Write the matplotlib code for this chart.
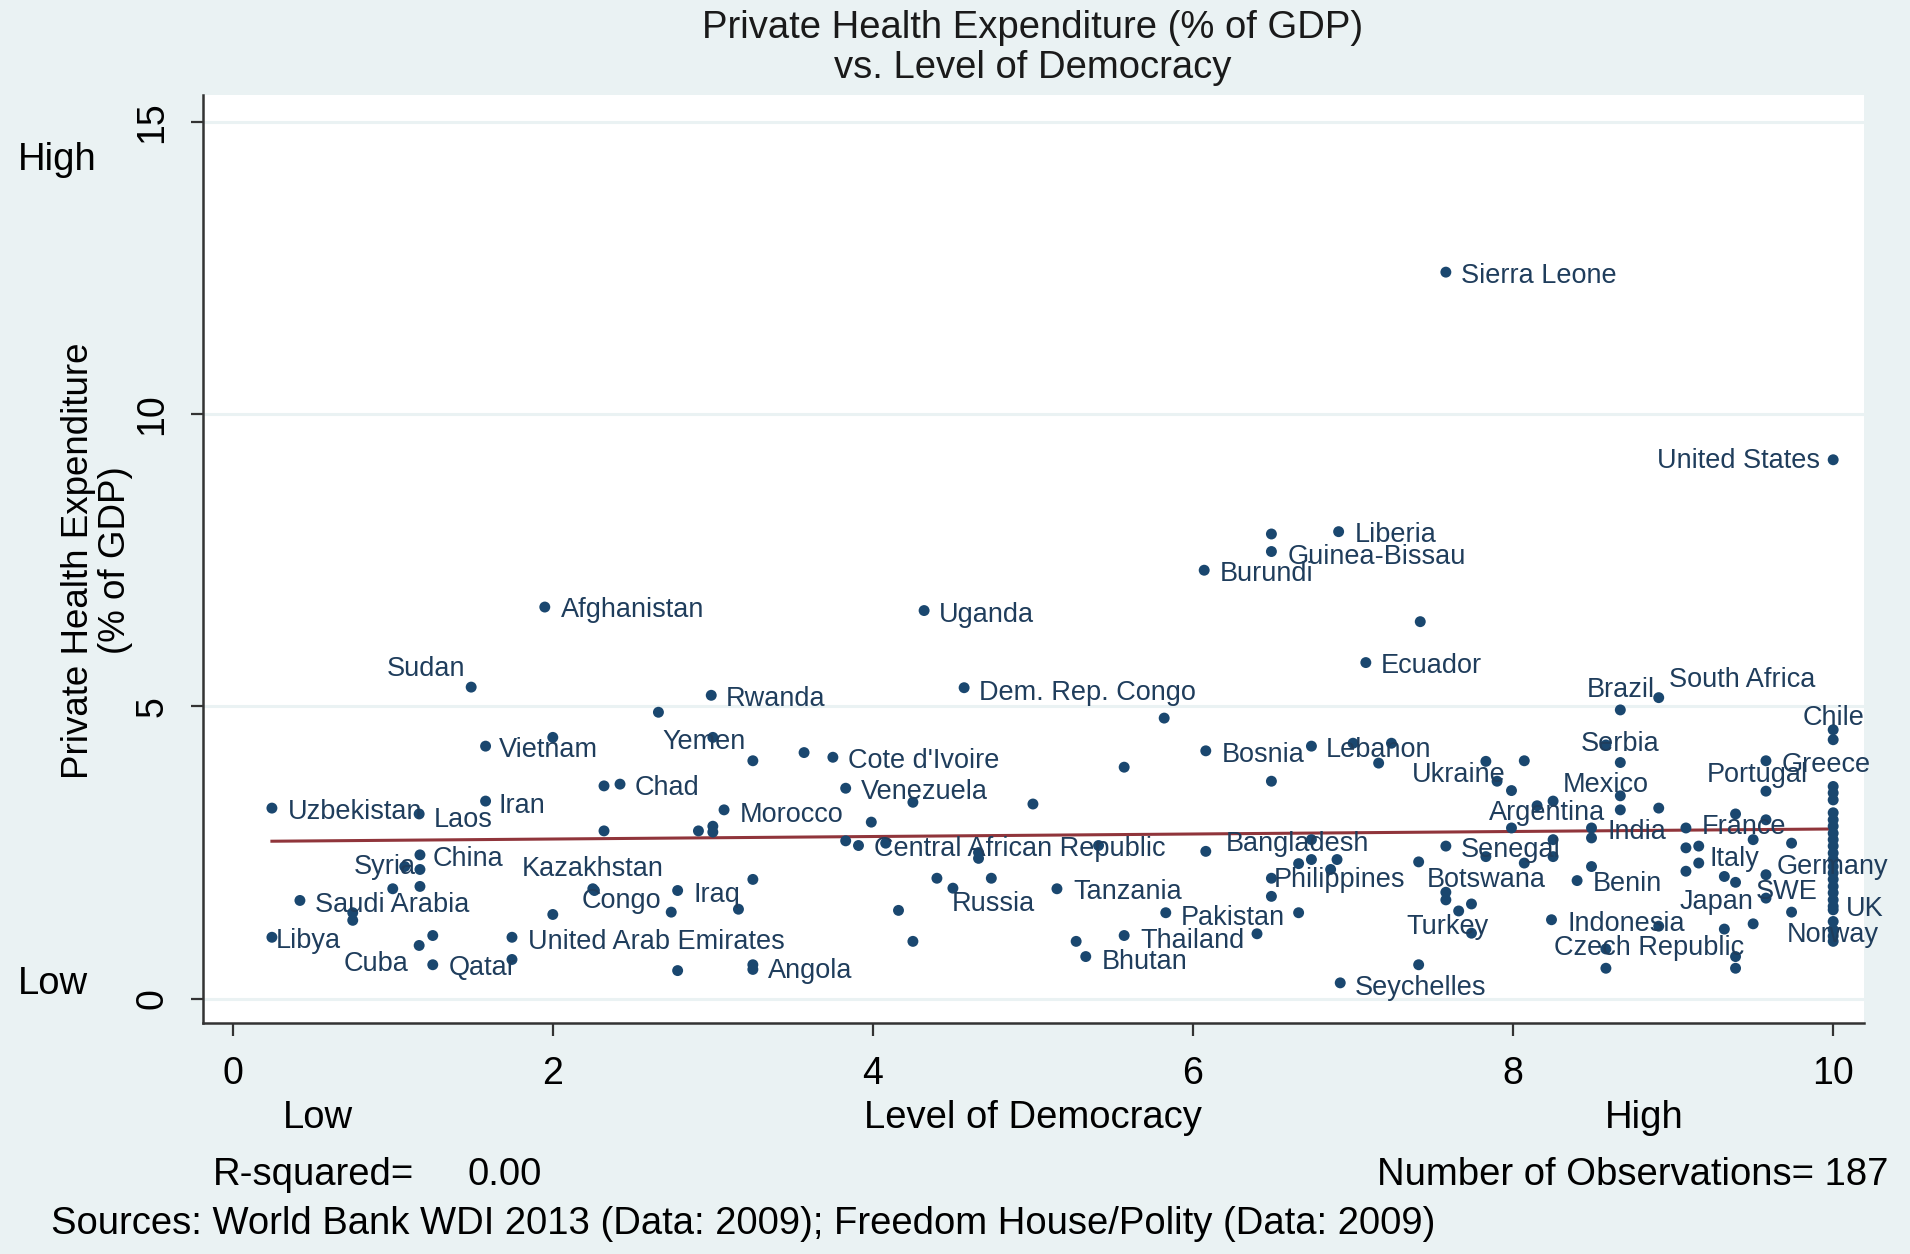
import numpy as np
import matplotlib
matplotlib.use("Agg")
import matplotlib.pyplot as plt

plt.rcParams['font.family'] = ['Liberation Sans', 'DejaVu Sans']

BG = "#eaf2f3"
NAVY = "#1a476f"
LABEL_COL = "#1f3d5c"
FIT_COL = "#90353b"

# labelled countries: democracy score, private health expenditure (% of GDP)
names = ["Sierra Leone", "United States", "Liberia", "Guinea-Bissau", "Burundi",
         "Afghanistan", "Uganda", "Ecuador", "Sudan", "Rwanda", "Dem. Rep. Congo",
         "Brazil", "South Africa", "Chile", "Serbia", "Greece", "Portugal",
         "Bosnia", "Lebanon", "Vietnam", "Yemen", "Cote d'Ivoire", "Chad",
         "Ukraine", "Venezuela", "Uzbekistan", "Laos", "Iran", "Morocco",
         "Mexico", "Argentina", "India", "France", "Bangladesh",
         "Central African Republic", "Senegal", "Italy", "Germany", "Syria",
         "China", "Kazakhstan", "Congo", "Philippines", "Botswana", "Benin",
         "Tanzania", "Iraq", "Russia", "Saudi Arabia", "Japan", "SWE", "UK",
         "Pakistan", "Indonesia", "Turkey", "Norway", "Libya",
         "United Arab Emirates", "Thailand", "Czech Republic", "Cuba", "Qatar",
         "Bhutan", "Angola", "Seychelles"]
dem_named = [7.58, 10.0, 6.91, 6.49, 6.07,
             1.95, 4.32, 7.08, 1.49, 2.99, 4.57,
             8.67, 8.91, 10.0, 8.67, 9.58, 9.58,
             6.08, 7.16, 1.58, 3.00, 3.75, 2.42,
             7.99, 3.83, 0.245, 1.165, 1.58, 3.07,
             8.67, 8.15, 8.49, 9.08, 6.08,
             3.91, 7.58, 9.16, 9.58, 1.075,
             1.17, 2.25, 2.26, 6.49, 7.58, 8.40,
             5.15, 2.78, 4.50, 0.42, 9.50, 9.58, 10.0,
             5.83, 8.24, 7.74, 10.0, 0.245,
             1.745, 5.57, 8.58, 1.165, 1.25,
             5.33, 3.25, 6.92]
phe_named = [12.43, 9.22, 7.99, 7.65, 7.33,
             6.70, 6.64, 5.75, 5.33, 5.19, 5.32,
             4.94, 5.15, 4.60, 4.04, 4.07, 3.55,
             4.24, 4.03, 4.32, 4.47, 4.13, 3.67,
             3.56, 3.60, 3.26, 3.16, 3.38, 3.23,
             3.47, 3.30, 2.92, 2.92, 2.52,
             2.62, 2.61, 2.32, 2.12, 2.26,
             2.46, 1.88, 1.85, 2.06, 1.82, 2.02,
             1.88, 1.85, 1.89, 1.68, 1.28, 1.72, 1.52,
             1.47, 1.35, 1.12, 1.07, 1.05,
             1.05, 1.08, 0.85, 0.91, 0.58,
             0.72, 0.58, 0.27]

# countries without a label
dem_other = [6.49, 7.42,
             2.66, 2.00, 3.25, 2.32, 2.32, 2.91, 3.00, 3.00, 1.17, 1.00,
             1.17, 0.75, 0.75, 3.25, 2.00, 2.74, 3.16, 1.25, 1.745, 2.78,
             3.25,
             5.82, 3.57, 6.74, 5.57, 6.49, 4.25, 5.00, 3.99, 3.83, 4.08,
             4.66, 4.66, 5.41, 6.74, 6.74, 6.66, 6.49, 6.66, 4.40, 4.74,
             4.16, 6.40, 5.27, 4.25,
             7.00, 7.24, 8.58, 7.83, 8.07, 7.90, 10.0, 8.67, 8.91, 8.25,
             7.99, 8.49, 9.39, 9.58, 9.50, 9.74, 8.25, 8.25, 6.90, 6.86,
             7.41, 7.83, 8.07, 9.08, 9.16, 9.08, 8.49, 9.32, 9.39, 9.74,
             7.58, 7.74, 7.66, 8.91, 8.58, 9.32, 9.39, 9.39, 7.41,
             10.0, 10.0, 10.0, 10.0, 10.0, 10.0, 10.0, 10.0, 10.0, 10.0,
             10.0, 10.0, 10.0, 10.0, 10.0, 10.0, 10.0, 10.0, 10.0, 10.0,
             10.0]
phe_other = [7.95, 6.45,
             4.90, 4.47, 4.07, 3.64, 2.87, 2.87, 2.95, 2.85, 2.21, 1.88,
             1.92, 1.47, 1.34, 2.04, 1.44, 1.48, 1.53, 1.08, 0.67, 0.48,
             0.50,
             4.80, 4.21, 4.32, 3.96, 3.72, 3.36, 3.33, 3.02, 2.70, 2.66,
             2.50, 2.40, 2.62, 2.72, 2.38, 2.31, 1.75, 1.47, 2.06, 2.06,
             1.51, 1.11, 0.98, 0.98,
             4.37, 4.37, 4.34, 4.06, 4.07, 3.72, 4.43, 3.23, 3.26, 3.38,
             2.92, 2.75, 3.16, 3.06, 2.72, 2.66, 2.72, 2.43, 2.38, 2.21,
             2.34, 2.43, 2.32, 2.58, 2.61, 2.18, 2.26, 2.09, 1.99, 1.48,
             1.69, 1.62, 1.50, 1.24, 0.52, 1.19, 0.72, 0.52, 0.58,
             3.63, 3.52, 3.40, 3.18, 3.06, 2.95, 2.83, 2.72, 2.61, 2.49,
             2.38, 2.26, 2.15, 2.04, 1.92, 1.81, 1.69, 1.58, 1.32, 1.18,
             0.98]

# label placement: (horizontal alignment, dx, dy) in pixels, dy positive = up
label_pos = {
    "Sierra Leone": ("left", 15, -4), "United States": ("right", -13, -1),
    "Liberia": ("left", 16, -3), "Guinea-Bissau": ("left", 16, -5),
    "Burundi": ("left", 16, -4), "Afghanistan": ("left", 16, -3),
    "Uganda": ("left", 15, -4), "Ecuador": ("left", 15, -3),
    "Sudan": ("right", -6, 18), "Rwanda": ("left", 15, -4),
    "Dem. Rep. Congo": ("left", 15, -5), "Brazil": ("center", 0, 20),
    "South Africa": ("left", 10, 18), "Chile": ("center", 0, 12),
    "Serbia": ("center", 0, 19), "Greece": ("left", 16, -4),
    "Portugal": ("center", -9, 16), "Bosnia": ("left", 16, -4),
    "Lebanon": ("center", 0, 13), "Vietnam": ("left", 13, -4),
    "Yemen": ("center", -9, -5), "Cote d'Ivoire": ("left", 15, -4),
    "Chad": ("left", 15, -4), "Ukraine": ("right", -6, 16),
    "Venezuela": ("left", 15, -4), "Uzbekistan": ("left", 16, -4),
    "Laos": ("left", 15, -6), "Iran": ("left", 13, -5),
    "Morocco": ("left", 16, -5), "Mexico": ("center", -15, 11),
    "Argentina": ("center", 10, -7), "India": ("left", 16, -4),
    "France": ("left", 16, 1), "Bangladesh": ("left", 20, 7),
    "Central African Republic": ("left", 16, -3), "Senegal": ("left", 15, -4),
    "Italy": ("left", 11, 4), "Germany": ("left", 11, 8),
    "Syria": ("right", 11, 0), "China": ("left", 13, -4),
    "Kazakhstan": ("center", 0, 20), "Congo": ("center", 27, -10),
    "Philippines": ("left", 2, -2), "Botswana": ("center", 40, 12),
    "Benin": ("left", 16, -3), "Tanzania": ("left", 16, -3),
    "Iraq": ("left", 16, -4), "Russia": ("left", -1, -16),
    "Saudi Arabia": ("left", 15, -5), "Japan": ("right", 0, 22),
    "SWE": ("center", 21, 6), "UK": ("left", 13, 1),
    "Pakistan": ("left", 15, -5), "Indonesia": ("left", 16, -4),
    "Turkey": ("center", -24, 6), "Norway": ("center", 0, 1),
    "Libya": ("left", 4, -4), "United Arab Emirates": ("left", 16, -5),
    "Thailand": ("left", 16, -5), "Czech Republic": ("center", 43, 1),
    "Cuba": ("right", -11, -19), "Qatar": ("left", 16, -3),
    "Bhutan": ("left", 16, -5), "Angola": ("left", 15, -6),
    "Seychelles": ("left", 15, -5),
}

dem_all = np.array(dem_named + dem_other)
phe_all = np.array(phe_named + phe_other)

fig = plt.figure(figsize=(19.1, 12.54), dpi=100, facecolor=BG)
ax = fig.add_axes([0.1065, 0.1842, 0.8692, 0.7400])
ax.set_facecolor("white")

ax.set_xlim(-0.183, 10.19)
ax.set_ylim(-0.417, 15.46)

for g in [0, 5, 10, 15]:
    ax.axhline(g, color=BG, lw=2.2, zorder=0)

ax.scatter(dem_all, phe_all, s=62, color=NAVY, edgecolors="none", zorder=3)

# linear fit
b, a = np.polyfit(dem_all, phe_all, 1)
xf = np.array([dem_all.min(), dem_all.max()])
ax.plot(xf, a + b * xf, color=FIT_COL, lw=2.2, zorder=2)

for n, x, y in zip(names, dem_named, phe_named):
    ha, dx, dy = label_pos[n]
    ax.annotate(n, (x, y), xytext=(dx, dy), textcoords="offset pixels",
                ha=ha, va="center", fontsize=19.5, color=LABEL_COL, zorder=4)

for s in ["top", "right"]:
    ax.spines[s].set_visible(False)
for s in ["left", "bottom"]:
    ax.spines[s].set_color("#333333")
    ax.spines[s].set_linewidth(1.8)

ax.set_xticks([0, 2, 4, 6, 8, 10])
ax.set_yticks([0, 5, 10, 15])
ax.tick_params(axis="both", length=9, width=1.6, color="#333333",
               labelsize=27, pad=15)
plt.setp(ax.get_yticklabels(), rotation=90, va="center")

fig.text(0.5408, 0.978, "Private Health Expenditure (% of GDP)", ha="center",
         va="center", fontsize=27.5, color="#1a1a1a")
fig.text(0.5408, 0.9458, "vs. Level of Democracy", ha="center", va="center",
         fontsize=27.5, color="#1a1a1a")

fig.text(0.041, 0.553, "Private Health Expenditure", rotation=90, ha="center",
         va="center", fontsize=26.5)
fig.text(0.0605, 0.553, "(% of GDP)", rotation=90, ha="center", va="center",
         fontsize=26.5)

fig.text(0.0095, 0.8724, "High", ha="left", va="center", fontsize=27.5)
fig.text(0.0095, 0.2153, "Low", ha="left", va="center", fontsize=27.5)

fig.text(0.148, 0.1084, "Low", ha="left", va="center", fontsize=27.5)
fig.text(0.5408, 0.1084, "Level of Democracy", ha="center", va="center",
         fontsize=27.5)
fig.text(0.8405, 0.1084, "High", ha="left", va="center", fontsize=27.5)

r2 = np.corrcoef(dem_all, phe_all)[0, 1] ** 2
fig.text(0.1116, 0.063, "R-squared=", ha="left", va="center", fontsize=27.5)
fig.text(0.245, 0.063, "%.2f" % r2, ha="left", va="center", fontsize=27.5)
fig.text(0.9885, 0.063, "Number of Observations= 187", ha="right",
         va="center", fontsize=27.5)
fig.text(0.0268, 0.024,
         "Sources: World Bank WDI 2013 (Data: 2009); Freedom House/Polity (Data: 2009)",
         ha="left", va="center", fontsize=27.5)

fig.savefig("out.png", dpi=100, facecolor=BG)
